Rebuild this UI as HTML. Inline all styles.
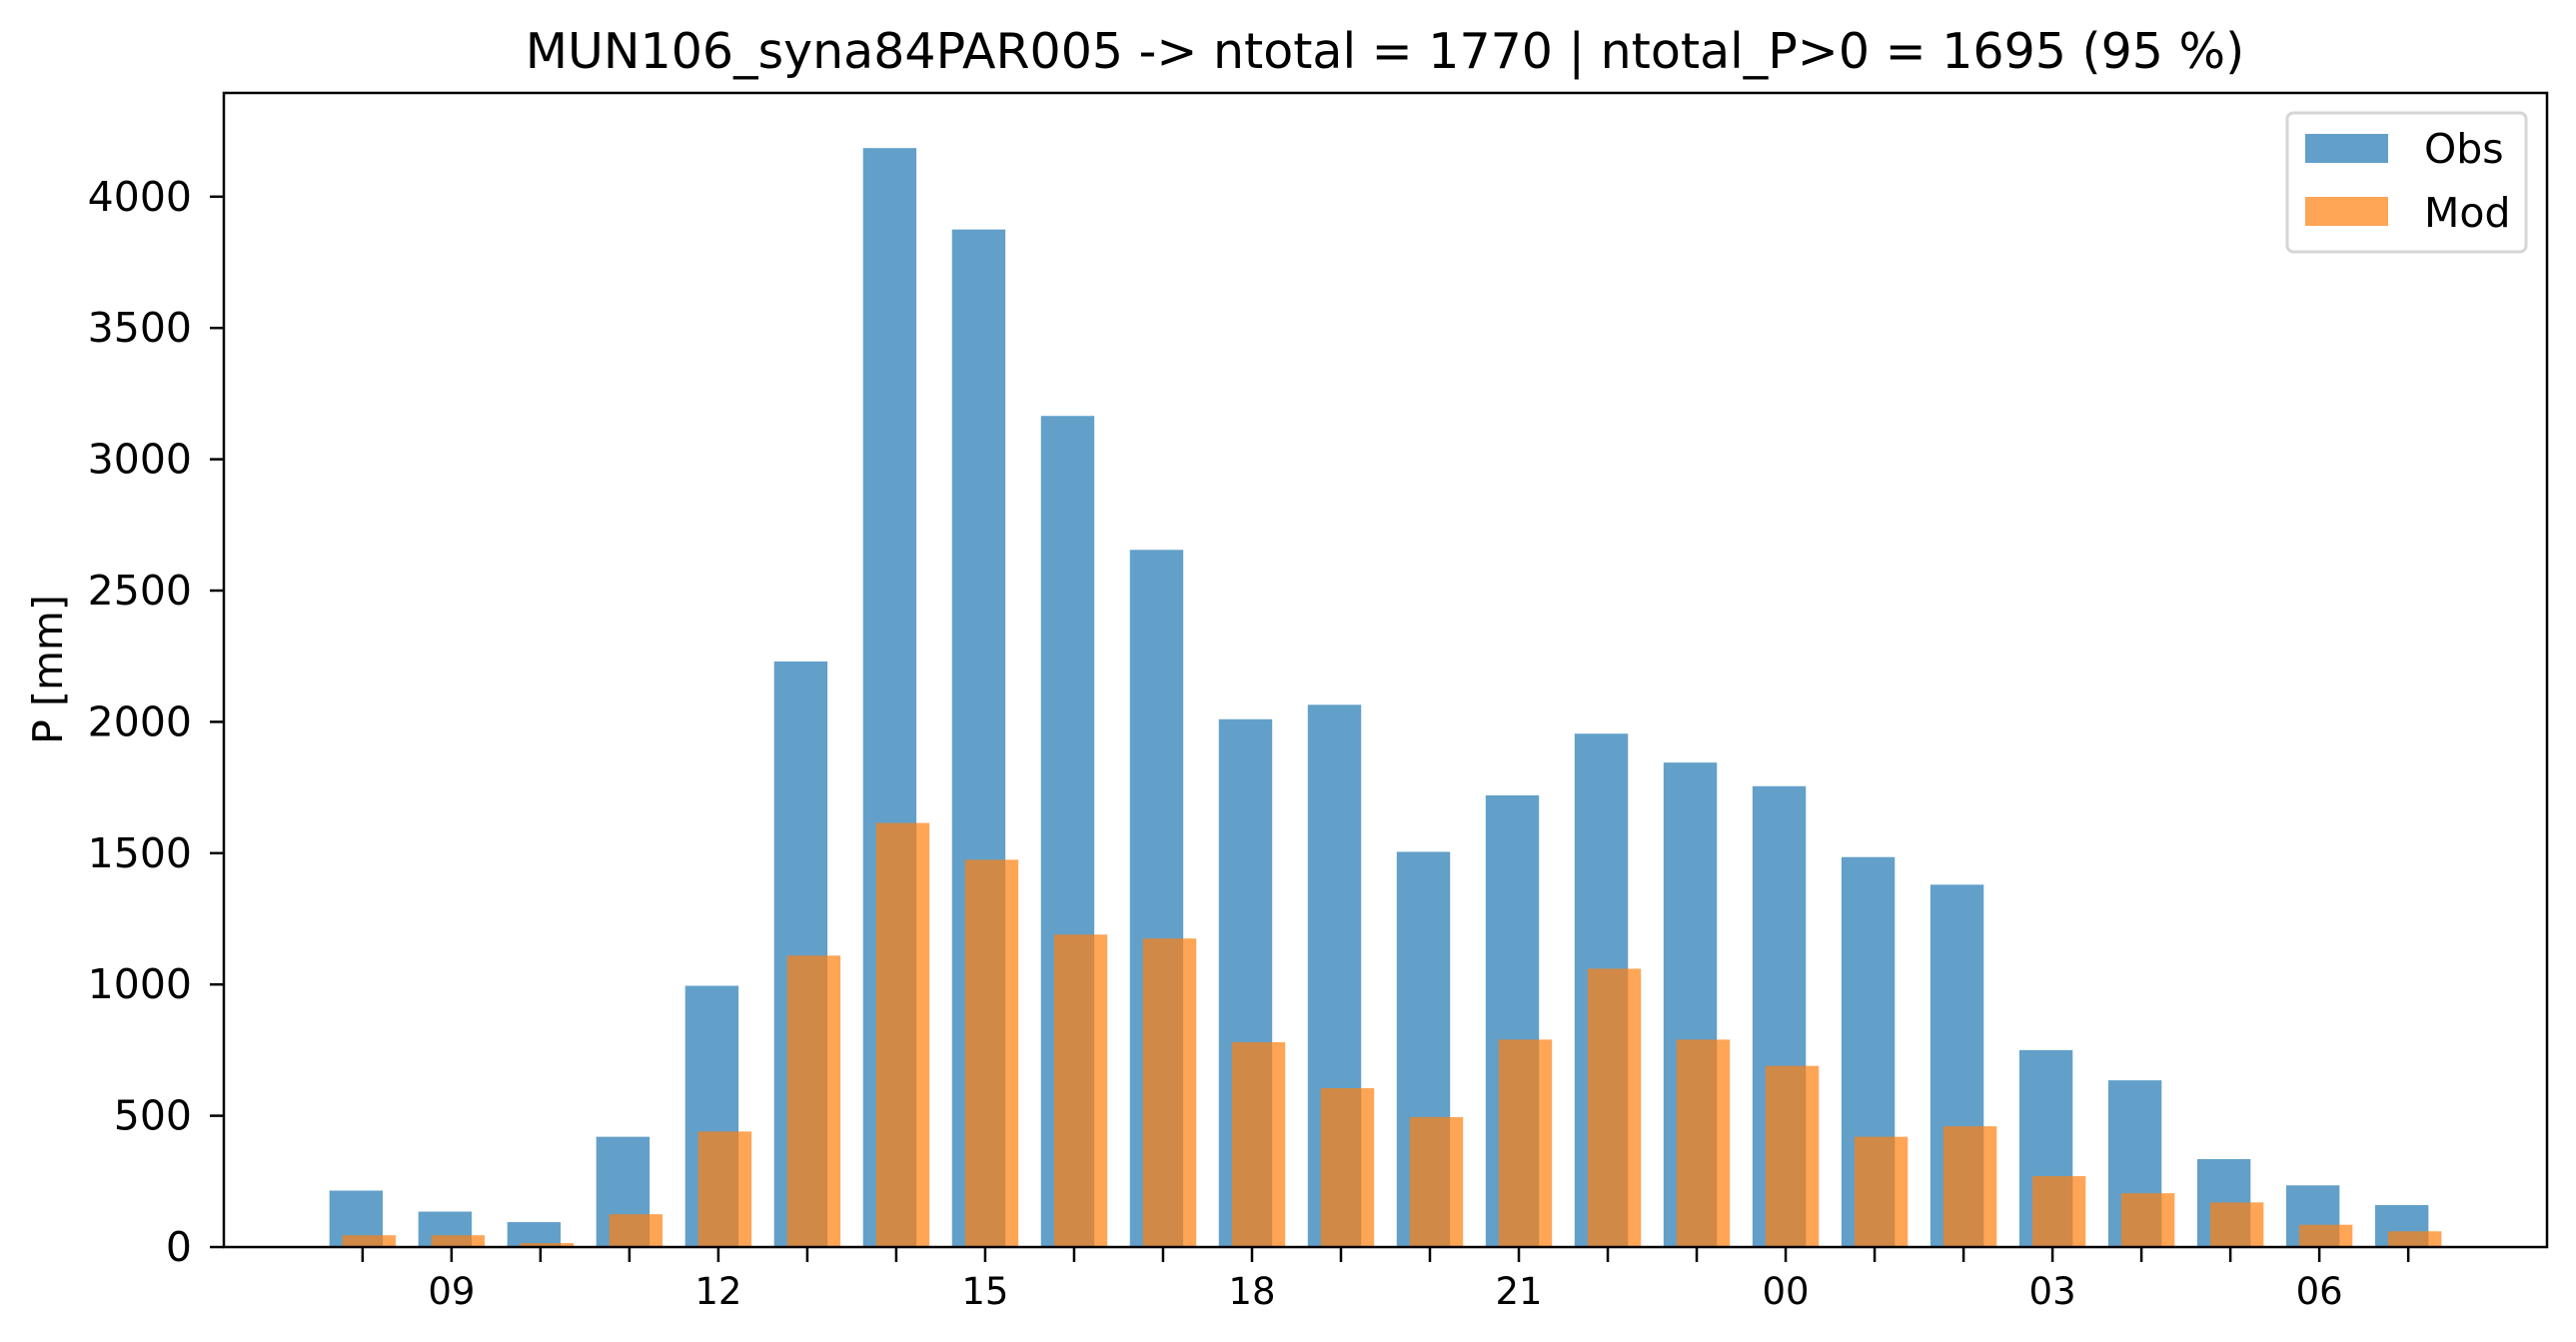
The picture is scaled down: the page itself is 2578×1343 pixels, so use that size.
<!DOCTYPE html>
<html><head><meta charset="utf-8"><style>
html,body{margin:0;padding:0;background:#fff;}
svg{display:block;font-family:"DejaVu Sans","Liberation Sans",sans-serif;}
</style></head><body>
<svg id="chart" width="2578" height="1343" viewBox="0 0 2578 1343" xmlns="http://www.w3.org/2000/svg">
<rect width="2578" height="1343" fill="#fff"/>
<text x="1386" y="68" font-size="49" text-anchor="middle">MUN106_syna84PAR005 -&gt; ntotal = 1770 | ntotal_P&gt;0 = 1695 (95 %)</text>
<text transform="translate(62,670) rotate(-90)" font-size="41" text-anchor="middle">P [mm]</text>
<g id="bars"></g>
<g id="axes"></g>
<g>
<rect x="2289" y="113" width="239" height="139" rx="6" fill="#fff" fill-opacity="0.8" stroke="#d6d6d6" stroke-width="3"/>
<rect x="2307" y="134" width="83" height="29" fill="#1f77b4" fill-opacity="0.7"/>
<text x="2426" y="163" font-size="41">Obs</text>
<rect x="2307" y="197" width="83" height="29" fill="#ff7f0e" fill-opacity="0.7"/>
<text x="2426" y="227" font-size="41">Mod</text>
</g>
</svg>
<script>
const hours = ["08","09","10","11","12","13","14","15","16","17","18","19","20","21","22","23","00","01","02","03","04","05","06","07"];
const obsValues = [215,135,95,420,995,2230,4185,3875,3165,2655,2010,2065,1505,1720,1955,1845,1755,1485,1380,750,635,335,235,160];
const modValues = [45,45,15,125,440,1110,1615,1475,1190,1175,780,605,495,790,1060,790,690,420,460,270,205,170,85,60];
const yTicks = [0,500,1000,1500,2000,2500,3000,3500,4000];
const xLabelHours = ["09","12","15","18","21","00","03","06"];

const L=224,R=2549,T=93,B=1248;
const xMin=-1.56, xMax=hours.length-1+1.56, yMax=4395;
const xs=i=>L+(i-xMin)/(xMax-xMin)*(R-L);
const ys=v=>B-v/yMax*(B-T);
const unit=(R-L)/(xMax-xMin);
const NS="http://www.w3.org/2000/svg";
const bars=document.getElementById('bars'), axes=document.getElementById('axes');
function mk(tag,attrs,parent){const e=document.createElementNS(NS,tag);for(const k in attrs)e.setAttribute(k,attrs[k]);parent.appendChild(e);return e;}
const bw=0.6*unit, off=0.073*unit;
obsValues.forEach((v,i)=>{
  const r=mk('rect',{x:xs(i)-off-bw/2,y:ys(v),width:bw,height:B-ys(v),fill:'#1f77b4','fill-opacity':0.7},bars);
  
  
});
modValues.forEach((v,i)=>{
  const r=mk('rect',{x:xs(i)+off-bw/2,y:ys(v),width:bw,height:B-ys(v),fill:'#ff7f0e','fill-opacity':0.7},bars);
  
  
});
const frame=mk('rect',{x:L,y:T,width:R-L,height:B-T,fill:'none',stroke:'#000','stroke-width':2.5},axes);


yTicks.forEach(v=>{
  const t=mk('line',{x1:L-14,x2:L,y1:ys(v),y2:ys(v),stroke:'#000','stroke-width':2.5},axes);
  
  
  const tx=mk('text',{x:L-32,y:ys(v)+14,'font-size':41,'text-anchor':'end'},axes);
  tx.textContent=v;
  
  
});
hours.forEach((h,i)=>{
  const t=mk('line',{x1:xs(i),x2:xs(i),y1:B,y2:B+15,stroke:'#000','stroke-width':2.5},axes);
  
  
  if(xLabelHours.includes(h)){
    const tx=mk('text',{x:xs(i),y:1305,'font-size':37,'text-anchor':'middle'},axes);
    tx.textContent=h;
    
    
  }
});
</script>
</body></html>
